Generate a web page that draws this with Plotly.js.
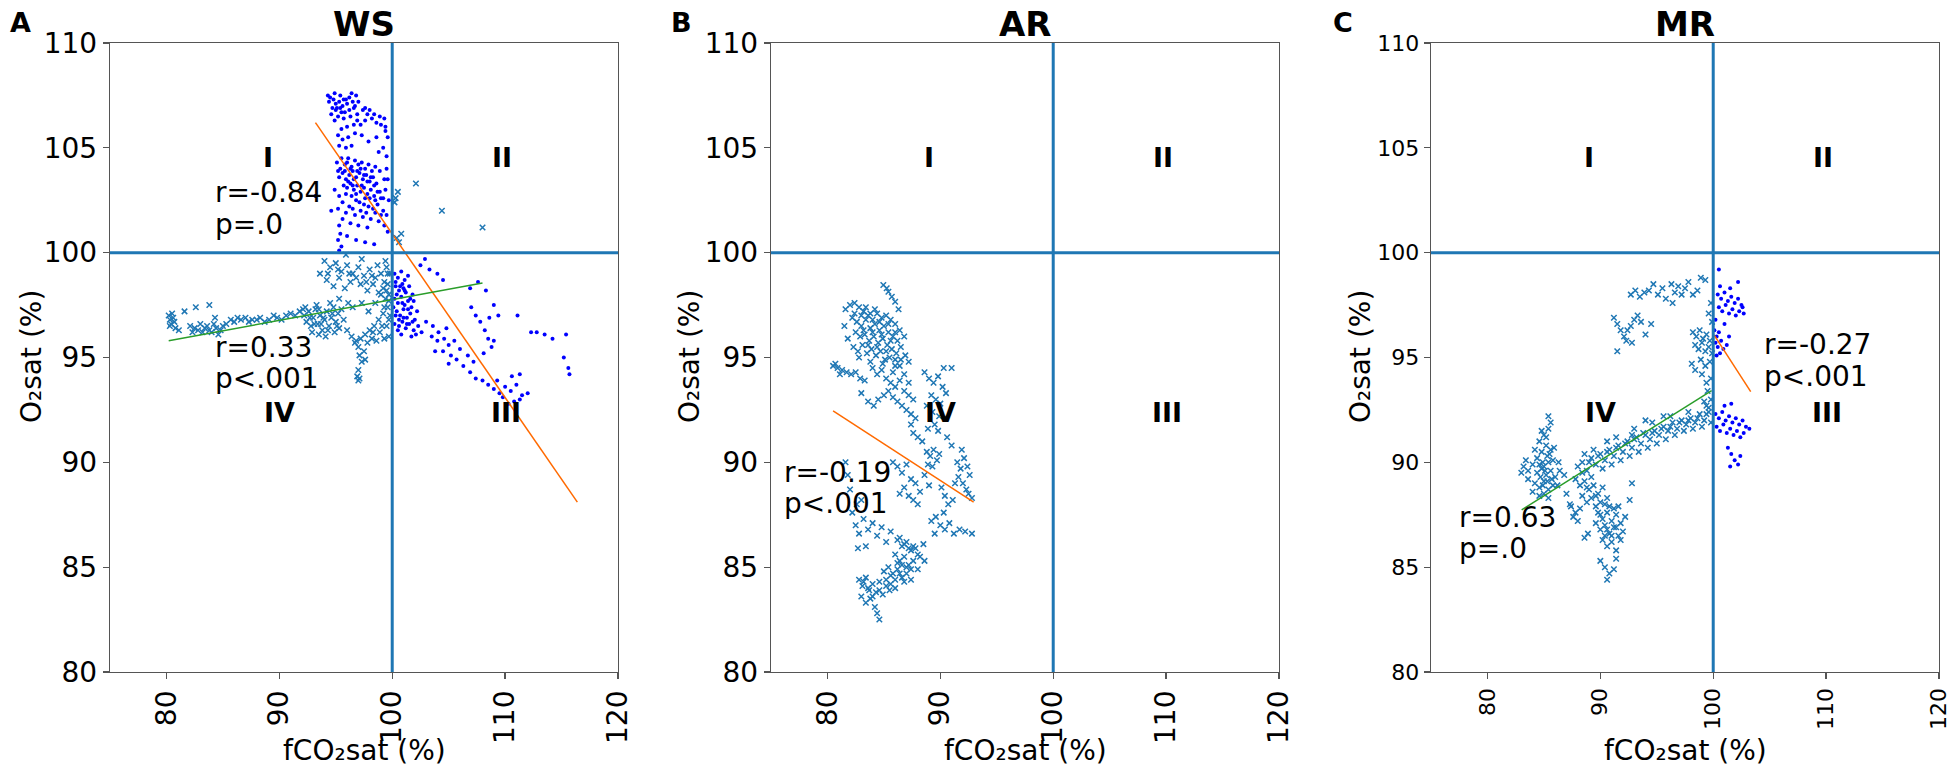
<!DOCTYPE html>
<html>
<head>
<meta charset="utf-8">
<script src="https://cdn.plot.ly/plotly-3.0.1.min.js"></script>
<style>html,body{margin:0;padding:0;background:#fff;}#chart{width:1950px;height:766px;}</style>
</head>
<body>
<div id="chart"></div>
<script>
// ---------- axis values ----------
const xTicks = [80, 90, 100, 110, 120];
const yTicks = [80, 85, 90, 95, 100, 105, 110];
const xRange = [75, 120];
const yRange = [80, 110];
const refLevel = 100;
const panelTitles = ["WS", "AR", "MR"];
const panelLetters = ["A", "B", "C"];
const quadrantNames = ["I", "II", "III", "IV"];
const quadrantX = [89, 109.7, 110.1, 90];
const quadrantY = [104.55, 104.55, 92.4, 92.4];
const xTitle = "fCO\u2082sat (%)";
const yTitle = "O\u2082sat (%)";

// ---------- WS (panel A) ----------
const wsDots = [
[94.3,107.5],[94.5,107.4],[94.8,107.3],[95.0,107.1],[95.3,107.2],[95.6,107.0],[95.9,107.3],[96.2,107.4],[96.5,107.2],[96.8,107.5],[97.0,107.2],[96.6,106.9],[96.2,106.8],[95.8,106.7],[95.4,106.9],[95.0,106.8],[94.7,106.9],[94.6,106.6],[95.2,106.5],[95.7,106.4],[96.3,106.5],[96.9,106.6],[97.4,106.8],[97.8,106.6],[98.2,106.4],[98.6,106.2],[99.0,106.1],[99.4,106.0],[97.6,106.3],[97.2,106.1],[96.6,106.1],[96.0,106.0],[95.5,105.9],[95.2,105.6],[95.6,105.4],[96.1,105.5],[96.7,105.7],[97.3,105.6],[97.9,105.3],[98.6,105.5],[99.2,105.0],[99.5,104.6],[98.8,104.8],[96.4,105.1],[95.9,105.0],[95.3,105.1],
[94.4,107.2],[94.9,107.6],[95.4,107.5],[95.7,107.3],[96.0,107.1],[96.4,107.6],[96.7,107.0],[95.1,106.9],[95.5,106.7],[94.9,106.3],[96.9,106.3],[97.6,106.9],[98.0,106.8],[98.4,106.6],[98.9,106.5],[99.3,106.4],[99.6,105.5],[99.4,105.8],
[95.1,104.3],[95.4,104.0],[95.8,104.2],[96.1,104.5],[96.4,104.1],[96.7,104.4],[97.0,104.2],[97.3,104.3],[97.6,104.0],[97.9,104.2],[98.2,103.9],[98.5,104.1],[95.3,103.6],[95.6,103.8],[95.9,103.5],[96.2,103.7],[96.5,103.9],[96.8,103.6],[97.1,103.8],[97.4,103.5],[97.7,103.7],[98.0,103.4],[98.3,103.6],[98.6,103.3],[95.7,103.2],[96.0,103.1],[96.3,103.3],[96.6,103.0],[96.9,103.2],[97.2,102.9],[97.5,103.1],[97.8,102.8],[98.1,103.0],[98.4,102.7],[98.7,102.9],[99.0,102.6],[96.4,102.7],[96.8,102.5],[97.1,102.4],[97.5,102.3],[97.9,102.2],[98.3,102.1],[98.7,102.3],[99.2,102.0],[99.5,101.8],[96.2,102.2],[95.6,102.4],[95.2,102.1],[94.6,102.0],[95.9,101.9],[96.7,101.8],[97.4,101.7],[98.1,101.6],[98.8,101.5],[99.3,101.3],[99.6,101.0],[97.8,101.2],[97.0,101.3],[96.3,101.4],[95.6,101.6],[95.3,101.3],[95.4,100.9],[95.2,100.6],[95.5,100.3],[95.3,100.1],[96.0,100.8],[96.8,100.6],[97.6,100.5],[98.4,100.4],[93.2,102.7],[99.5,104.0],[99.6,103.5],[99.4,103.0],[99.7,102.5],
[95.2,103.9],[95.5,104.5],[95.8,103.9],[96.0,104.3],[96.3,104.0],[96.6,103.5],[96.9,103.9],[97.2,104.0],[97.5,103.7],[97.8,103.4],[98.1,103.6],[98.4,103.2],[96.1,103.4],[96.5,103.2],[96.8,102.8],[97.3,103.2],[97.6,102.6],[98.0,102.6],[98.5,102.5],[98.9,102.9],[99.2,102.6],[95.9,102.8],[96.5,102.1],[97.2,102.0],[97.7,101.9],[98.5,101.9],[99.0,101.8],[95.3,102.7],[94.9,103.0],[98.9,103.9],[99.3,103.5],
[100.2,99.0],[100.5,98.8],[100.8,99.1],[101.1,98.7],[101.4,98.9],[100.3,98.4],[100.6,98.2],[100.9,98.5],[101.2,98.1],[101.5,98.4],[101.8,98.0],[100.2,97.8],[100.5,97.6],[100.8,97.9],[101.1,97.5],[101.4,97.7],[101.7,97.4],[100.4,97.2],[100.7,97.0],[101.0,97.3],[101.3,96.9],[101.6,97.1],[102.0,96.8],[100.2,96.6],[100.6,96.5],[100.9,96.7],[101.2,96.4],[101.5,96.6],[101.9,96.3],[102.3,96.5],[102.6,96.2],[100.3,98.6],[100.1,97.4],[101.0,98.3],[101.9,97.7],[102.2,97.2],
[100.3,97.0],[100.6,96.8],[101.0,96.9],[101.4,97.3],[101.8,96.7],[100.4,98.0],[100.7,98.4],[101.1,98.2],[101.6,97.8],[100.9,97.6],[101.3,96.6],[100.5,96.3],[102.1,96.1],[101.7,96.0],[100.8,96.1],
[102.5,99.4],[103.3,99.2],[104.0,99.0],[104.5,98.7],[103.0,96.7],[103.6,96.5],[104.1,96.2],[104.6,95.9],[105.0,95.6],[104.5,95.3],[105.2,95.1],[105.7,94.9],[106.3,94.6],[106.9,94.3],[107.4,94.0],[104.0,95.8],[103.5,96.0],[104.8,96.4],[105.5,95.8],[106.0,95.4],[106.7,95.1],[107.2,94.8],[103.8,95.3],[105.0,94.7],[106.9,98.3],[107.6,98.6],[108.3,98.2],[107.0,97.4],[107.4,97.0],[107.8,96.7],[108.2,96.3],[108.5,95.9],[108.8,95.5],[108.6,96.9],[108.1,95.2],[109.0,95.8],[109.0,97.5],[108.0,93.9],[108.5,93.7],[109.0,93.5],[109.5,93.3],[110.0,93.6],[110.5,93.4],[111.0,93.7],[111.5,93.2],[109.3,93.9],[109.8,93.1],[110.3,92.8],[110.8,92.9],[111.3,93.0],[112.0,93.3],[110.6,94.1],[111.3,94.2],[112.3,96.2],[112.8,96.2],[113.5,96.1],[114.2,95.9],[115.4,96.1],[115.2,95.0],[115.6,94.5],[115.7,94.2],[109.4,97.0],[111.1,97.0],[102.9,99.7]
];
const wsCross = [
[80.2,97.0],[80.3,96.8],[80.4,96.6],[80.5,97.1],[80.6,96.9],[80.7,96.7],[80.3,96.5],[80.8,96.4],[81.1,96.3],[81.6,97.2],[82.1,96.5],[82.3,96.2],[82.5,96.4],[82.8,96.3],[83.0,96.6],[83.2,96.2],[83.4,96.4],[83.6,96.5],[83.8,96.3],[84.0,96.2],[84.2,96.6],[84.4,96.4],[84.6,96.1],[84.8,96.3],[85.0,96.5],[82.6,97.4],[83.8,97.5],[84.3,96.9],[85.3,96.6],[85.7,96.8],[86.0,96.7],[86.3,96.9],[86.6,96.8],[87.0,96.9],[87.3,96.7],[87.6,96.8],[88.0,96.8],[88.3,96.9],[88.7,96.7],[89.1,96.8],[89.5,97.0],[89.8,96.9],[90.2,96.8],[90.6,97.0],[91.0,97.1],[91.4,97.0],[91.8,97.2],[92.1,97.3],
[92.2,97.0],[92.4,96.7],[92.6,97.2],[92.8,96.5],[93.0,96.9],[93.2,97.3],[93.4,96.6],[93.6,97.0],[93.8,96.3],[94.0,96.8],[94.2,97.2],[94.4,96.5],[94.6,96.9],[94.8,97.4],[95.0,96.7],[95.2,97.1],[92.9,96.2],[93.5,96.1],[94.1,96.0],[93.3,97.5],[94.5,97.6],[95.3,96.4],
[92.3,97.4],[92.7,96.9],[93.1,96.6],[93.5,97.3],[93.9,96.9],[94.3,96.3],[94.7,97.1],[95.1,96.5],[93.7,96.6],[94.9,96.2],
[94.0,99.6],[94.5,99.3],[95.0,99.5],[95.5,99.1],[96.0,99.4],[96.5,99.0],[97.0,99.3],[97.5,98.9],[98.0,99.2],[98.5,98.8],[99.0,99.0],[99.5,99.3],[93.6,99.0],[94.2,98.7],[94.8,98.4],[95.3,98.8],[95.8,98.3],[96.3,98.6],[97.2,98.5],[97.8,98.2],[98.3,98.5],[98.8,98.1],[99.3,98.6],[99.7,98.0],[95.9,99.9],[97.3,99.7],
[94.3,99.0],[95.2,99.2],[96.2,99.0],[96.8,98.8],[97.7,98.6],[98.2,98.9],[98.7,99.4],[99.2,98.3],[99.6,99.0],[99.7,97.7],[99.5,98.2],[99.3,97.4],[99.7,96.8],[99.1,96.5],[98.3,96.2],
[95.3,97.8],[95.5,97.3],[95.7,96.8],[96.0,96.3],[96.4,96.0],[96.8,95.8],[97.2,95.9],[97.6,96.1],[98.0,96.3],[98.4,96.5],[98.8,96.8],[99.2,97.1],[99.6,97.4],[99.4,97.8],[99.0,98.0],[96.1,97.6],[96.5,97.4],[97.3,97.6],[97.9,97.2],[98.5,97.6],[99.5,96.5],[99.7,96.0],[99.3,95.9],[98.9,96.2],[98.6,95.8],[98.2,95.9],[97.8,95.7],[99.8,97.0],[99.6,98.5],[99.8,99.0],[99.4,99.6],
[97.0,95.5],[97.1,95.1],[97.3,94.8],[97.0,94.4],[96.9,94.1],[97.0,93.9],[97.1,94.0],[97.5,95.3],[97.6,94.9],[96.7,95.7],
[102.1,103.3],[104.4,102.0],[108.0,101.2],[100.3,102.6],[100.5,102.9],[100.2,102.4],[100.4,100.7],[100.8,100.9],[100.6,100.5]
];
const wsFitNegX = [93.2, 116.4], wsFitNegY = [106.2, 88.1];
const wsFitPosX = [80.2, 108.0], wsFitPosY = [95.8, 98.55];
const wsStatNeg = ["r=-0.84", "p=.0"], wsStatNegPos = [84.15, 102.85, 101.35];
const wsStatPos = ["r=0.33", "p<.001"], wsStatPosPos = [84.15, 95.49, 94.01];

// ---------- AR (panel B) ----------
const arCross = [
[84.95,98.46],[85.25,98.3],[85.4,98.14],[85.7,97.9],[86.0,97.66],[86.3,97.3],
[81.6,97.3],[82.0,97.5],[82.4,97.6],[82.8,97.4],[83.2,97.2],[83.6,97.0],[84.0,96.8],[84.4,97.1],[84.8,96.9],[85.2,97.0],[85.6,96.8],[86.0,96.6],[86.4,96.3],[86.8,96.0],[82.2,96.9],[82.6,96.7],[83.0,96.5],[83.4,96.8],[83.8,96.4],[84.2,96.6],[84.6,96.3],[85.0,96.5],[85.4,96.2],[85.8,96.0],[86.2,95.8],[82.5,96.2],[82.9,96.0],[83.3,96.1],[83.7,95.8],[84.1,96.0],[84.5,95.7],[84.9,95.9],[85.3,95.6],[85.7,95.4],[86.1,95.2],[86.5,95.5],[82.3,95.5],[82.7,95.3],[83.1,95.6],[83.5,95.2],[83.9,95.4],[84.3,95.1],[84.7,95.3],[85.1,94.9],[85.5,95.0],[86.9,95.1],[87.2,94.8],[81.8,95.9],[81.5,96.5],
[82.4,97.1],[83.0,97.0],[83.4,97.4],[83.8,97.1],[84.2,97.3],[84.6,96.7],[85.4,96.6],[86.0,96.2],[83.2,96.3],[84.0,96.2],[84.8,96.1],[85.6,95.8],[83.6,95.6],[84.4,95.5],[85.2,95.3],[86.0,94.9],[86.4,94.6],[86.8,94.2],[87.2,93.8],[85.8,94.3],[84.9,94.7],[83.8,94.8],[82.8,95.0],
[80.5,94.6],[80.9,94.5],[81.3,94.4],[81.7,94.3],[82.1,94.2],[82.5,94.3],[82.9,94.0],[83.3,93.9],[80.7,94.7],[81.1,94.2],
[84.0,94.5],[84.4,94.2],[84.8,94.4],[85.2,94.0],[85.6,93.8],[86.0,93.6],[86.4,93.9],[86.8,93.4],[87.2,93.2],[87.6,93.0],[85.4,93.4],[85.8,93.1],[86.2,92.9],[86.6,92.7],[87.0,92.5],[87.4,92.3],[87.8,92.1],[86.0,94.6],[86.5,94.9],[85.0,93.2],[84.5,93.0],[84.1,92.7],[83.6,92.9],[83.0,93.3],[87.4,91.8],[87.6,91.4],[88.0,91.2],[88.4,91.0],
[88.6,94.3],[89.0,94.0],[89.4,93.8],[89.8,94.1],[90.2,93.6],[90.5,93.3],[89.2,93.2],[89.6,93.0],[90.0,92.8],[88.8,92.7],[89.3,92.4],[89.9,92.2],[90.3,94.5],[91.0,94.5],[89.5,91.8],[89.8,91.5],[88.9,91.6],
[91.5,90.0],[91.8,89.7],[92.1,90.2],[92.4,89.8],[91.6,89.3],[92.0,89.0],[92.3,88.7],[92.5,88.5],[92.6,89.4],[91.3,89.0],[92.8,88.3],[91.9,90.6],[91.0,90.8],[90.6,91.2],
[88.8,90.5],[89.1,90.3],[89.4,90.6],[89.7,90.1],[88.9,89.9],[89.3,89.8],[89.9,90.4],
[86.2,89.8],[86.6,89.5],[87.0,89.9],[87.4,89.2],[87.8,89.0],[88.2,88.6],[86.8,88.8],[87.2,88.4],[87.6,88.2],[88.0,88.0],[86.4,88.5],[85.8,90.0],[88.6,89.4],[89.0,88.9],[90.1,88.8],[90.4,88.4],
[82.2,87.6],[82.5,87.0],[82.8,86.6],[83.2,87.3],[83.6,86.8],[84.0,87.1],[84.4,86.5],[84.8,86.9],[85.2,86.2],[85.6,86.7],[82.7,85.9],[83.4,86.0],[83.0,88.2],[82.0,88.7],[81.8,89.4],[81.6,90.0],[82.6,88.0],
[89.2,87.2],[89.6,87.4],[90.0,87.0],[90.4,86.8],[90.8,87.1],[91.2,86.6],[91.7,86.8],[92.2,86.7],[92.8,86.6],[89.5,86.6],[90.3,87.6],[90.7,88.0],[91.1,88.2],
[86.2,86.3],[86.6,86.0],[87.0,86.2],[87.4,85.8],[87.8,85.9],[88.2,85.5],[86.0,85.6],[86.4,85.3],[86.8,85.5],[87.2,85.1],[87.6,85.3],[88.0,84.9],[85.4,85.0],[85.8,84.7],[86.2,84.9],[86.6,84.5],[87.0,84.7],[87.4,84.4],[85.2,84.4],[85.6,84.2],[86.0,84.0],[88.5,86.1],[88.6,85.3],
[86.4,86.4],[86.8,86.1],[87.2,85.9],[87.6,86.0],[88.0,85.6],[86.2,85.2],[86.6,85.1],[87.0,85.0],[87.4,84.9],[85.6,84.6],[86.0,84.4],[86.4,84.7],[86.8,84.3],[85.0,84.8],[84.6,83.9],[84.0,83.6],[83.6,84.0],[83.2,84.3],
[82.8,84.4],[83.1,84.1],[83.4,84.5],[83.7,83.9],[84.0,84.2],[84.3,83.8],[84.6,84.3],[84.9,83.7],[83.0,83.6],[83.4,83.3],[83.8,83.5],[84.2,83.1],[84.4,82.8],[84.6,82.5],[85.2,84.1],[85.5,83.9]
];
const arFitX = [80.5, 92.95], arFitY = [92.45, 88.1];
const arStat = ["r=-0.19", "p<.001"], arStatPos = [76.0, 89.5, 88.02];

// ---------- MR (panel C) ----------
const mrCross = [
[84.6,91.0],[85.0,91.3],[85.4,91.6],[85.2,90.8],[84.8,90.5],[85.6,90.6],[84.4,90.2],[84.9,90.0],[85.3,90.3],[85.8,90.1],[83.2,89.8],[83.6,89.6],[84.0,89.9],[84.4,89.5],[84.8,89.7],[85.2,89.4],[85.6,89.6],[86.0,89.3],[86.4,89.6],[86.8,89.4],[84.2,89.0],[84.6,88.8],[85.0,89.1],[85.4,88.7],[85.8,88.9],[84.6,88.4],[85.0,88.5],[85.4,88.3],[83.6,89.2],[83.0,89.5],[86.3,90.0],[85.6,91.9],[85.4,92.2],
[84.6,89.9],[85.0,89.8],[85.4,90.0],[85.1,89.6],[84.7,89.3],[85.3,89.1],[85.7,89.2],[84.9,88.9],[85.5,90.4],[84.8,91.5],[85.2,91.2],[84.2,90.6],[85.9,90.7],[86.2,88.9],[84.0,88.6],[83.4,90.1],
[88.0,89.8],[88.4,90.0],[88.8,89.6],[89.2,90.2],[89.6,89.9],[90.0,90.4],[90.4,90.1],[90.8,90.6],[91.2,90.3],[91.6,90.8],[92.0,90.5],[92.4,91.0],[92.8,90.7],[93.2,91.2],[93.6,90.9],[94.0,91.3],[94.4,91.1],[94.8,91.5],[95.2,91.3],[95.6,91.7],[96.0,91.5],[96.4,91.9],[96.8,91.6],[97.2,92.0],[97.6,91.8],[98.0,92.1],[98.4,91.9],[98.8,92.3],[99.2,92.0],[99.6,92.4],[90.2,89.7],[91.0,89.9],[91.8,90.1],[92.6,90.3],[93.4,90.5],[94.2,90.7],[95.0,90.9],[95.8,91.1],[96.6,91.3],[97.4,91.5],[98.2,91.6],[99.0,91.7],[99.8,91.9],[88.6,90.4],[89.4,90.6],[90.6,91.0],[91.4,91.2],[93.0,91.6],[94.6,91.9],[96.2,92.2],[97.8,92.4],[99.4,92.7],
[89.0,90.0],[89.8,90.3],[90.6,90.5],[91.4,90.7],[92.2,90.9],[93.0,91.1],[93.8,91.4],[94.6,91.4],[95.4,91.6],[96.2,91.7],[97.0,91.9],[97.8,92.0],[98.6,92.1],[99.4,92.3],[92.8,91.3],[94.0,92.0],[95.6,92.2],
[87.8,89.2],[88.2,88.9],[88.6,89.1],[89.0,88.7],[89.4,88.9],[89.8,88.5],[90.2,88.8],[90.6,88.3],[88.4,88.4],[88.8,88.1],[89.2,88.3],[89.6,87.9],[90.0,88.1],[87.4,87.9],[87.8,87.6],[88.2,87.8],[89.8,87.6],[90.2,87.3],[90.6,87.6],[91.0,87.2],[91.4,87.5],[91.8,87.1],[92.2,87.4],[89.6,87.1],[90.0,86.8],[90.4,87.0],[90.8,86.6],[91.2,86.9],[91.6,86.5],[92.0,86.7],[90.2,86.3],[90.6,86.0],[91.0,86.2],[91.4,85.8],[90.0,85.3],[90.4,85.0],[90.8,84.7],[91.2,84.9],[90.6,84.4],[91.4,85.4],[92.6,88.2],[92.8,89.0],[88.6,86.4],[88.9,86.6],
[88.4,89.5],[89.2,89.3],[88.8,88.8],[89.6,88.4],[90.4,88.0],[90.0,87.5],[90.8,87.9],[91.2,87.8],[90.6,86.8],[91.0,86.5],[91.4,86.9],[91.8,86.3],[90.4,86.5],[91.6,87.9],
[87.3,88.0],[87.6,87.4],[88.0,87.2],[87.0,88.5],
[98.2,96.2],[98.5,96.0],[98.8,96.3],[99.1,95.9],[99.4,96.1],[99.7,95.8],[98.4,95.6],[98.7,95.4],[99.0,95.7],[99.3,95.3],[99.6,95.5],[99.9,95.2],[98.9,94.9],[99.3,94.6],[99.7,94.8],[99.0,94.2],[99.4,93.8],[99.8,94.0],[99.5,93.4],[99.8,93.0],[99.6,92.6],[99.2,92.9],[99.9,96.7],[99.6,97.1],[99.8,97.6],[98.4,94.4],[98.1,94.7],
[92.7,98.0],[93.1,98.2],[93.5,97.9],[93.9,98.1],[94.3,98.2],[94.7,98.5],[95.1,98.0],[95.5,98.3],[96.3,98.5],[96.6,98.1],[96.9,98.4],[97.2,98.0],[97.5,98.3],[97.8,98.6],[98.2,98.0],[98.6,98.2],[98.9,98.8],[99.3,98.7],[95.8,97.8],[96.4,97.6],
[91.2,96.9],[91.5,96.6],[91.8,96.3],[92.1,96.0],[92.4,96.3],[92.7,96.5],[93.0,96.8],[93.3,97.0],[93.6,96.7],[92.3,95.8],[92.8,95.7],[94.0,96.1],[94.5,96.6],[91.5,95.3]
];
const mrDots = [
[100.4,98.0],[100.7,97.8],[101.0,98.1],[101.3,97.7],[101.6,97.9],[101.9,97.6],[102.2,97.8],[102.5,97.5],[100.5,97.4],[100.8,97.2],[101.1,97.5],[101.4,97.1],[101.7,97.3],[102.0,97.0],[102.3,97.2],[102.6,97.4],[100.6,98.4],[101.5,98.3],[102.2,98.6],[102.7,97.1],[100.5,99.2],
[100.1,96.3],[100.3,96.0],[100.5,96.2],[100.2,95.7],[100.4,95.5],[100.7,95.8],[100.9,95.4],[101.2,95.6],[100.3,95.1],[100.6,95.2],[101.4,96.0],[101.0,96.6],[100.2,96.8],
[100.2,92.3],[100.5,92.1],[100.8,92.4],[101.1,92.0],[101.4,92.2],[101.7,91.9],[102.0,92.1],[102.3,91.8],[102.6,92.0],[102.9,91.7],[103.2,91.6],[100.3,91.7],[100.6,91.5],[100.9,91.8],[101.2,91.4],[101.5,91.6],[101.8,91.3],[102.1,91.5],[102.4,91.2],[101.0,92.7],[101.6,92.8],[102.7,91.4],
[101.3,90.7],[101.6,90.4],[101.9,90.1],[102.2,89.9],[101.5,89.8],[102.4,90.3]
];
const mrFitPosX = [83.03, 99.86], mrFitPosY = [87.73, 93.42];
const mrFitNegX = [100.07, 103.32], mrFitNegY = [96.08, 93.37];
const mrStatPos = ["r=0.63", "p=.0"], mrStatPosPos = [77.3, 87.35, 85.87];
const mrStatNeg = ["r=-0.27", "p<.001"], mrStatNegPos = [104.3, 95.6, 94.1];

// ---------- build ----------
const FONT = "DejaVu Sans";
const STEEL = "#1f77b4", BLUE = "#0000ff", ORANGE = "#ff6a00", GREEN = "#2a9d2a";
const xs = a => a.map(p => p[0]);
const ys = a => a.map(p => p[1]);

function dotTrace(pts, xa, ya) {
  return {type: "scatter", mode: "markers", x: xs(pts), y: ys(pts), xaxis: xa, yaxis: ya,
    marker: {color: BLUE, size: 4, symbol: "circle", line: {width: 0}}, hoverinfo: "skip"};
}
function crossTrace(pts, xa, ya) {
  return {type: "scatter", mode: "markers", x: xs(pts), y: ys(pts), xaxis: xa, yaxis: ya,
    marker: {color: STEEL, size: 5.5, symbol: "x-thin", line: {width: 1.5, color: STEEL}}, hoverinfo: "skip"};
}
function lineTrace(x, y, color, xa, ya) {
  return {type: "scatter", mode: "lines", x: x, y: y, xaxis: xa, yaxis: ya,
    line: {color: color, width: 1.5}, hoverinfo: "skip"};
}

const data = [
  crossTrace(wsCross, "x", "y"), dotTrace(wsDots, "x", "y"),
  lineTrace(wsFitNegX, wsFitNegY, ORANGE, "x", "y"), lineTrace(wsFitPosX, wsFitPosY, GREEN, "x", "y"),
  crossTrace(arCross, "x2", "y2"),
  lineTrace(arFitX, arFitY, ORANGE, "x2", "y2"),
  crossTrace(mrCross, "x3", "y3"), dotTrace(mrDots, "x3", "y3"),
  lineTrace(mrFitPosX, mrFitPosY, GREEN, "x3", "y3"), lineTrace(mrFitNegX, mrFitNegY, ORANGE, "x3", "y3")
];

const W = 1950, H = 766;
const domainsX = [[110 / W, 618 / W], [771 / W, 1279 / W], [1431 / W, 1939 / W]];
const domainY = [1 - 672 / H, 1 - 43 / H];
const tickSizes = [28, 28, 22];

function axisCommon(i) {
  return {showline: true, mirror: true, linecolor: "#555", linewidth: 1.3, ticks: "outside", ticklen: 6, tickwidth: 1.3,
    tickcolor: "#555", showgrid: false, zeroline: false, ticklabeloverflow: "allow",
    tickfont: {family: FONT, size: tickSizes[i], color: "#000"}};
}
function xAxis(i) {
  return Object.assign(axisCommon(i), {domain: domainsX[i], range: xRange, tickvals: xTicks,
    ticktext: xTicks.map(String), tickangle: -90, anchor: i === 0 ? "y" : "y" + (i + 1)});
}
function yAxis(i) {
  return Object.assign(axisCommon(i), {domain: domainY, range: yRange, tickvals: yTicks,
    ticktext: yTicks.map(String), anchor: i === 0 ? "x" : "x" + (i + 1)});
}

const shapes = [];
const annotations = [];
const axSuffix = ["", "2", "3"];
const panelCenters = [364, 1025, 1685];
const letterX = [20, 681, 1343];
const yTitleX = [32, 690, 1361];

for (let i = 0; i < 3; i++) {
  const xr = "x" + axSuffix[i], yr = "y" + axSuffix[i];
  shapes.push({type: "line", xref: xr, yref: yr + " domain", x0: refLevel, x1: refLevel, y0: 0, y1: 1,
    line: {color: STEEL, width: 3}, layer: "above"});
  shapes.push({type: "line", xref: xr + " domain", yref: yr, x0: 0, x1: 1, y0: refLevel, y1: refLevel,
    line: {color: STEEL, width: 3}, layer: "above"});
  for (let q = 0; q < 4; q++) {
    annotations.push({xref: xr, yref: yr, x: quadrantX[q], y: quadrantY[q], text: quadrantNames[q],
      showarrow: false, xanchor: "center", yanchor: "middle", font: {family: FONT, size: 27, weight: "bold", color: "#000"}});
  }
  annotations.push({xref: "paper", yref: "paper", x: panelCenters[i] / W, y: 1 - 24 / H, text: panelTitles[i],
    showarrow: false, xanchor: "center", yanchor: "middle", font: {family: FONT, size: 34, weight: "bold", color: "#000"}});
  annotations.push({xref: "paper", yref: "paper", x: letterX[i] / W, y: 1 - 22 / H, text: panelLetters[i],
    showarrow: false, xanchor: "center", yanchor: "middle", font: {family: FONT, size: 27, weight: "bold", color: "#000"}});
  annotations.push({xref: "paper", yref: "paper", x: yTitleX[i] / W, y: 1 - 357 / H, text: yTitle,
    textangle: -90, showarrow: false, xanchor: "center", yanchor: "middle", font: {family: FONT, size: 28, color: "#000"}});
  annotations.push({xref: "paper", yref: "paper", x: panelCenters[i] / W, y: 1 - 750 / H, text: xTitle,
    showarrow: false, xanchor: "center", yanchor: "middle", font: {family: FONT, size: 28, color: "#000"}});
}

function stat(lines, pos, xr, yr) {
  for (let k = 0; k < lines.length; k++) {
    annotations.push({xref: xr, yref: yr, x: pos[0], y: pos[1 + k], text: lines[k], align: "left",
      showarrow: false, xanchor: "left", yanchor: "middle", font: {family: FONT, size: 28, color: "#000"}});
  }
}
stat(wsStatNeg, wsStatNegPos, "x", "y");
stat(wsStatPos, wsStatPosPos, "x", "y");
stat(arStat, arStatPos, "x2", "y2");
stat(mrStatPos, mrStatPosPos, "x3", "y3");
stat(mrStatNeg, mrStatNegPos, "x3", "y3");

const layout = {
  width: W, height: H, margin: {l: 0, r: 0, t: 0, b: 0},
  paper_bgcolor: "#fff", plot_bgcolor: "#fff", showlegend: false,
  font: {family: FONT, color: "#000"},
  xaxis: xAxis(0), yaxis: yAxis(0), xaxis2: xAxis(1), yaxis2: yAxis(1), xaxis3: xAxis(2), yaxis3: yAxis(2),
  shapes: shapes, annotations: annotations
};

Plotly.newPlot("chart", data, layout, {displayModeBar: false, staticPlot: true});
</script>
</body>
</html>
